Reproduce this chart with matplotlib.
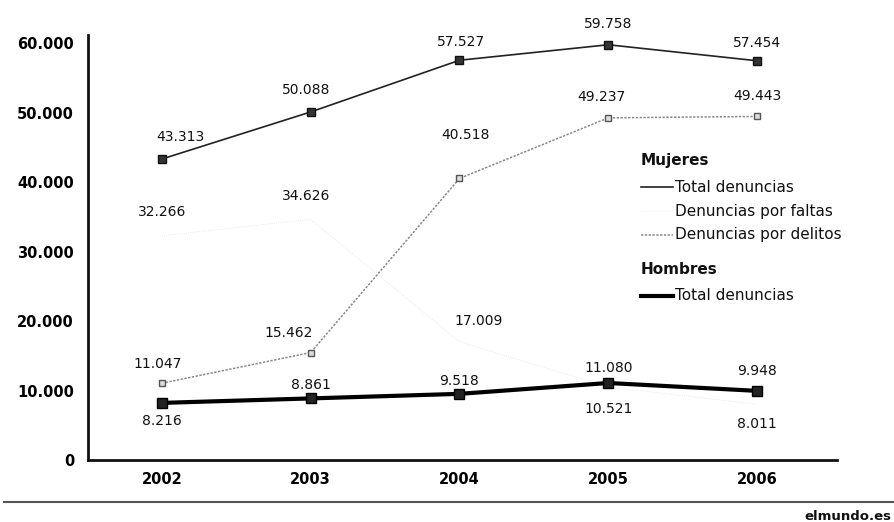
"""Denuncias por malos tratos, 2002-2006 (elmundo.es style line chart)."""
import matplotlib
matplotlib.use("Agg")
import matplotlib.pyplot as plt
from matplotlib.lines import Line2D

years = ["2002", "2003", "2004", "2005", "2006"]

mujeres_total = [43313, 50088, 57527, 59758, 57454]
mujeres_faltas = [32266, 34626, 17009, 10521, 8011]
mujeres_delitos = [11047, 15462, 40518, 49237, 49443]
hombres_total = [8216, 8861, 9518, 11080, 9948]

yticks = [0, 10000, 20000, 30000, 40000, 50000, 60000]


def fmt(v):
    return f"{v:,}".replace(",", ".")


plt.rcParams["font.family"] = ["DejaVu Sans"]

fig = plt.figure(figsize=(8.95, 5.22), dpi=100)
ax = fig.add_axes([0.0983, 0.1188, 0.837, 0.814])
x = list(range(len(years)))

ax.plot(x, mujeres_total, color="#222222", lw=1.2, marker="s", ms=6,
        mfc="#333333", mec="#111111", zorder=3)
ax.plot(x, mujeres_faltas, color="#e4e4e4", lw=0.6, ls=":", zorder=1)
ax.plot(x, mujeres_delitos, color="#888888", lw=1.1, ls=(0, (1.5, 1)),
        marker="s", ms=5, mfc="#dddddd", mec="#555555", zorder=3)
ax.plot(x, hombres_total, color="#000000", lw=3, marker="s", ms=7,
        mfc="#222222", mec="#000000", zorder=4)

lab = dict(ha="center", va="center", fontsize=10, fontweight="medium", color="#111111")
# data labels (offsets in points)
offs_total = [(13, 16), (-3, 16), (1, 13), (0, 15), (0, 13)]
offs_faltas = [(0, 17), (-3, 17), (14, 15), (0, -16), (0, -14)]
offs_delitos = [(-3, 14), (-16, 14), (4, 31), (-5, 15), (0, 15)]
offs_hombres = [(0, -13), (0, 10), (0, 9), (0, 11), (0, 14)]
for series, offs in [(mujeres_total, offs_total), (mujeres_faltas, offs_faltas),
                     (mujeres_delitos, offs_delitos), (hombres_total, offs_hombres)]:
    for xi, v, (dx, dy) in zip(x, series, offs):
        ax.annotate(fmt(v), (xi, v), xytext=(dx, dy), textcoords="offset points", **lab)

ax.set_xlim(-0.497, 4.538)
ax.set_ylim(0, 61150)
ax.set_xticks(x)
ax.set_xticklabels(years, fontsize=10.5, fontweight="bold")
ax.set_yticks(yticks)
ax.set_yticklabels([fmt(v) for v in yticks], fontsize=10.5, fontweight="bold")
ax.tick_params(length=0, pad=10)
ax.tick_params(axis="x", pad=9)
for side in ["top", "right"]:
    ax.spines[side].set_visible(False)
for side in ["left", "bottom"]:
    ax.spines[side].set_linewidth(2)
    ax.spines[side].set_color("#111111")

# legend drawn by hand
def leg_line(y, **kw):
    fig.add_artist(Line2D([641 / 895, 673 / 895], [1 - y / 522] * 2,
                          transform=fig.transFigure, **kw))

fig.text(641 / 895, 1 - 161 / 522, "Mujeres", fontsize=11, fontweight="bold",
         va="center", color="#111111")
leg_line(187, color="#222222", lw=1.2)
fig.text(675 / 895, 1 - 187 / 522, "Total denuncias", fontsize=11, va="center", color="#111111")
leg_line(211, color="#f0f0f0", lw=0.6, ls=":")
fig.text(675 / 895, 1 - 211 / 522, "Denuncias por faltas", fontsize=11, va="center", color="#111111")
leg_line(235, color="#888888", lw=1.1, ls=(0, (1.5, 1)))
fig.text(675 / 895, 1 - 235 / 522, "Denuncias por delitos", fontsize=11, va="center", color="#111111")
fig.text(641 / 895, 1 - 270 / 522, "Hombres", fontsize=11, fontweight="bold",
         va="center", color="#111111")
leg_line(296, color="#000000", lw=3)
fig.text(675 / 895, 1 - 296 / 522, "Total denuncias", fontsize=11, va="center", color="#111111")

fig.add_artist(Line2D([4 / 895, 1.0], [1 - 502 / 522] * 2, transform=fig.transFigure,
                      color="#555555", lw=1.5))
fig.text(891 / 895, 1 - 516 / 522, "elmundo.es", fontsize=9.5, fontweight="bold",
         ha="right", va="center", color="#111111")

fig.savefig("out.png", dpi=100)
